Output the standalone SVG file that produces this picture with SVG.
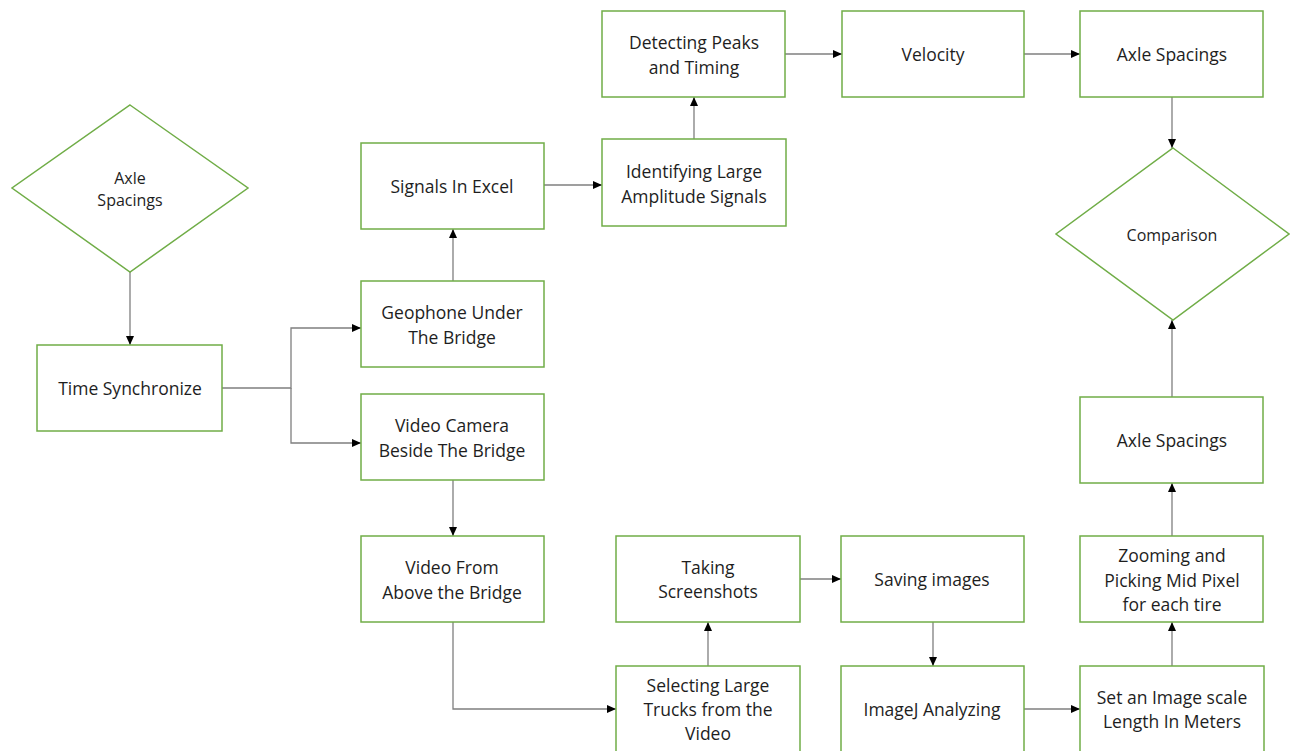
<svg xmlns="http://www.w3.org/2000/svg" width="1290" height="751" viewBox="0 0 1290 751">
<style>
.n{fill:#fff;stroke:#70AD47;stroke-width:1.5}
.t{font-family:"Open Sans","Noto Sans",sans-serif;font-size:17.5px;fill:#1e1e1e;text-anchor:middle;dominant-baseline:central}
.s{font-size:16px}
.c{fill:none;stroke:#7f7f7f;stroke-width:1.3}
</style>
<defs>
<marker id="a" markerWidth="10" markerHeight="10" refX="9" refY="5" orient="auto" markerUnits="userSpaceOnUse">
<path d="M0,1 L9,5 L0,9 Z" fill="#000"/>
</marker>
</defs>
<rect width="1290" height="751" fill="#fff"/>
<g id="connectors">
<path class="c" d="M130,272 V345" marker-end="url(#a)"/>
<path class="c" d="M222,388 H291 V328 H361" marker-end="url(#a)"/>
<path class="c" d="M291,388 V443 H361" marker-end="url(#a)"/>
<path class="c" d="M453,281 V229" marker-end="url(#a)"/>
<path class="c" d="M453,480 V536" marker-end="url(#a)"/>
<path class="c" d="M544,185 H602" marker-end="url(#a)"/>
<path class="c" d="M694,139 V97" marker-end="url(#a)"/>
<path class="c" d="M785,54 H842" marker-end="url(#a)"/>
<path class="c" d="M1024,54 H1080" marker-end="url(#a)"/>
<path class="c" d="M1172,97 V148" marker-end="url(#a)"/>
<path class="c" d="M1172,397 V320" marker-end="url(#a)"/>
<path class="c" d="M1172,536 V483" marker-end="url(#a)"/>
<path class="c" d="M1172,666 V622" marker-end="url(#a)"/>
<path class="c" d="M1024,709 H1080" marker-end="url(#a)"/>
<path class="c" d="M933,622 V666" marker-end="url(#a)"/>
<path class="c" d="M800,579 H841" marker-end="url(#a)"/>
<path class="c" d="M708,666 V622" marker-end="url(#a)"/>
<path class="c" d="M453,622 V709 H616" marker-end="url(#a)"/>
</g>
<g id="axle-left">
<polygon class="n" points="130,105 248,188 130,272 12,188"/>
<text class="t s" x="130" y="178">Axle</text>
<text class="t s" x="130" y="200">Spacings</text>
</g>
<g id="time-sync">
<rect class="n" x="37" y="345" width="185" height="86"/>
<text class="t" x="130" y="388">Time Synchronize</text>
</g>
<g id="geophone">
<rect class="n" x="361" y="281" width="183" height="86"/>
<text class="t" x="452" y="312">Geophone  Under</text>
<text class="t" x="452" y="337">The Bridge</text>
</g>
<g id="video-camera">
<rect class="n" x="361" y="394" width="183" height="86"/>
<text class="t" x="452" y="425">Video Camera</text>
<text class="t" x="452" y="450">Beside The Bridge</text>
</g>
<g id="signals-excel">
<rect class="n" x="361" y="143" width="183" height="86"/>
<text class="t" x="452" y="186">Signals In Excel</text>
</g>
<g id="identifying">
<rect class="n" x="602" y="139" width="184" height="87"/>
<text class="t" x="694" y="171">Identifying Large</text>
<text class="t" x="694" y="196">Amplitude Signals</text>
</g>
<g id="detecting">
<rect class="n" x="602" y="11" width="183" height="86"/>
<text class="t" x="694" y="42">Detecting Peaks</text>
<text class="t" x="694" y="67">and Timing</text>
</g>
<g id="velocity">
<rect class="n" x="842" y="11" width="182" height="86"/>
<text class="t" x="933" y="54">Velocity</text>
</g>
<g id="axle-top">
<rect class="n" x="1080" y="11" width="183" height="86"/>
<text class="t" x="1172" y="54">Axle Spacings</text>
</g>
<g id="comparison">
<polygon class="n" points="1173,148 1289,234 1173,320 1056,234"/>
<text class="t s" x="1172" y="235">Comparison</text>
</g>
<g id="axle-lower">
<rect class="n" x="1080" y="397" width="183" height="86"/>
<text class="t" x="1172" y="440">Axle Spacings</text>
</g>
<g id="zooming">
<rect class="n" x="1080" y="536" width="183" height="86"/>
<text class="t" x="1172" y="555">Zooming and</text>
<text class="t" x="1172" y="580">Picking Mid Pixel</text>
<text class="t" x="1172" y="604">for each tire</text>
</g>
<g id="set-scale">
<rect class="n" x="1080" y="666" width="184" height="87"/>
<text class="t" x="1172" y="697">Set an Image scale</text>
<text class="t" x="1172" y="721">Length In Meters</text>
</g>
<g id="imagej">
<rect class="n" x="841" y="666" width="183" height="87"/>
<text class="t" x="932" y="709">ImageJ Analyzing</text>
</g>
<g id="saving">
<rect class="n" x="841" y="536" width="183" height="86"/>
<text class="t" x="932" y="579">Saving images</text>
</g>
<g id="screenshots">
<rect class="n" x="616" y="536" width="184" height="86"/>
<text class="t" x="708" y="567">Taking</text>
<text class="t" x="708" y="591">Screenshots</text>
</g>
<g id="selecting">
<rect class="n" x="616" y="666" width="184" height="87"/>
<text class="t" x="708" y="685">Selecting Large</text>
<text class="t" x="708" y="709">Trucks from the</text>
<text class="t" x="708" y="733">Video</text>
</g>
<g id="video-above">
<rect class="n" x="361" y="536" width="183" height="86"/>
<text class="t" x="452" y="567">Video From</text>
<text class="t" x="452" y="592">Above the Bridge</text>
</g>
</svg>
